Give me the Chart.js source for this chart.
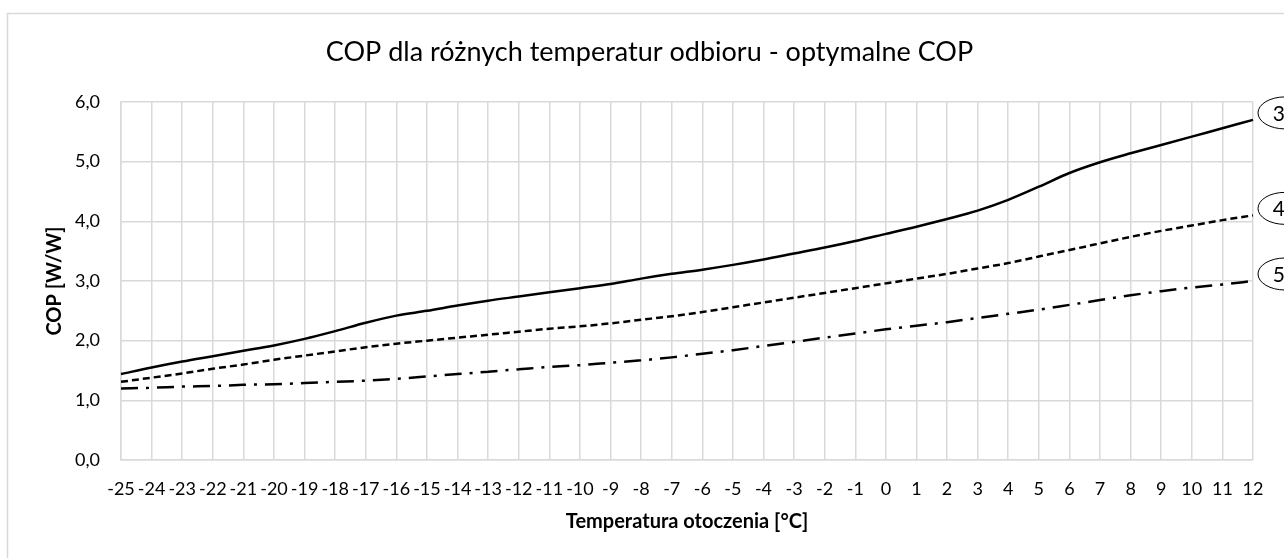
<!DOCTYPE html>
<html>
<head>
<meta charset="utf-8">
<script src="https://cdn.jsdelivr.net/npm/chart.js@4"></script>
<style>
  html, body { margin: 0; padding: 0; background: #fff; }
  #wrap { width: 1284px; height: 558px; }
</style>
</head>
<body>
<div id="wrap"><canvas id="copChart" width="1284" height="558"></canvas></div>
<script>
// Temperatura otoczenia [°C]
const temps = [-25, -24, -23, -22, -21, -20, -19, -18, -17, -16, -15, -14, -13, -12, -11, -10, -9, -8, -7,
    -6, -5, -4, -3, -2, -1, 0, 1, 2, 3, 4, 5, 6, 7, 8, 9, 10, 11, 12];

// COP dla temperatur odbioru 35 / 45 / 55
const cop35 = [1.44, 1.55, 1.65, 1.74, 1.83, 1.92, 2.03, 2.16, 2.30, 2.42, 2.50, 2.59, 2.67, 2.74, 2.81, 2.88, 2.95, 3.04, 3.12,
    3.19, 3.27, 3.36, 3.46, 3.56, 3.67, 3.79, 3.91, 4.04, 4.18, 4.36, 4.58, 4.81, 4.99, 5.14, 5.28, 5.42, 5.56, 5.70];
const cop45 = [1.31, 1.38, 1.45, 1.53, 1.60, 1.68, 1.75, 1.82, 1.89, 1.95, 2.00, 2.05, 2.10, 2.15, 2.20, 2.24, 2.29, 2.35, 2.41,
    2.48, 2.56, 2.64, 2.72, 2.80, 2.88, 2.96, 3.04, 3.12, 3.21, 3.30, 3.41, 3.52, 3.63, 3.74, 3.84, 3.93, 4.02, 4.10];
const cop55 = [1.20, 1.21, 1.23, 1.24, 1.26, 1.27, 1.29, 1.31, 1.33, 1.36, 1.40, 1.44, 1.48, 1.52, 1.56, 1.59, 1.63, 1.67, 1.72,
    1.78, 1.84, 1.91, 1.98, 2.05, 2.12, 2.19, 2.25, 2.31, 2.38, 2.45, 2.52, 2.60, 2.68, 2.76, 2.83, 2.89, 2.94, 3.00];

const seriesNames = ['35', '45', '55'];
const yTickLabels = ['0,0', '1,0', '2,0', '3,0', '4,0', '5,0', '6,0'];

const gridColor = '#d9d9d9';
const fontFamily = 'Lato, "Open Sans", sans-serif';

// white background + light frame around the whole chart
const frame = {
    id: 'frame',
    beforeDraw(chart) {
        const c = chart.ctx;
        c.save();
        c.fillStyle = '#fff';
        c.fillRect(0, 0, chart.width, chart.height);
        c.strokeStyle = gridColor;
        c.lineWidth = 1.5;
        c.strokeRect(7.5, 13.5, 1400, 700);
        c.restore();
    }
};

// oval labels next to the end of each line
const endLabels = {
    id: 'endLabels',
    afterDatasetsDraw(chart) {
        const c = chart.ctx;
        c.save();
        chart.data.datasets.forEach((ds, i) => {
            const meta = chart.getDatasetMeta(i);
            const pt = meta.data[meta.data.length - 1];
            const cx = pt.x + 32, cy = pt.y - 7;
            c.beginPath();
            c.ellipse(cx, cy, 27, 16, 0, 0, Math.PI * 2);
            c.fillStyle = '#fff';
            c.fill();
            c.lineWidth = 1;
            c.strokeStyle = '#000';
            c.stroke();
            c.fillStyle = '#000';
            c.font = '21px ' + fontFamily;
            c.textAlign = 'center';
            c.textBaseline = 'middle';
            c.fillText(seriesNames[i], cx, cy + 1);
        });
        c.restore();
    }
};

const lineStyle = {
    borderColor: '#000',
    borderWidth: 2.5,
    pointRadius: 0,
    fill: false,
    cubicInterpolationMode: 'monotone',
    borderCapStyle: 'butt'
};

new Chart(document.getElementById('copChart'), {
    type: 'line',
    data: {
        labels: temps,
        datasets: [
            Object.assign({ label: seriesNames[0], data: cop35 }, lineStyle),
            Object.assign({ label: seriesNames[1], data: cop45, borderDash: [7, 4] }, lineStyle),
            Object.assign({ label: seriesNames[2], data: cop55, borderDash: [17, 8, 3, 8] }, lineStyle)
        ]
    },
    options: {
        responsive: false,
        animation: false,
        devicePixelRatio: 1,
        // the original chart box runs past the right edge, so the title sits right of the canvas centre
        layout: { padding: { left: 23, right: 8, top: 0, bottom: 0 } },
        plugins: {
            legend: { display: false },
            tooltip: { enabled: false },
            title: {
                display: true,
                text: 'COP dla różnych temperatur odbioru - optymalne COP',
                color: '#000',
                font: { family: fontFamily, size: 27, weight: 'normal', lineHeight: 1.2 },
                padding: { top: 36, bottom: 33.6 }
            }
        },
        scales: {
            x: {
                offset: false,
                grid: { color: gridColor, lineWidth: 1.5, drawTicks: false },
                border: { color: gridColor, width: 1.5 },
                ticks: {
                    autoSkip: false, maxRotation: 0, minRotation: 0, padding: 18,
                    color: '#000', font: { family: fontFamily, size: 18 }
                },
                title: {
                    display: true,
                    text: 'Temperatura otoczenia [°C]',
                    color: '#000',
                    font: { family: fontFamily, size: 20, weight: 'bold', lineHeight: 1.2 },
                    padding: { top: 8, bottom: 24 }
                },
                afterFit(scale) { scale.height = 98; }
            },
            y: {
                min: 0, max: 6,
                grid: { color: gridColor, lineWidth: 1.5, drawTicks: false },
                border: { color: gridColor, width: 1.5 },
                ticks: {
                    stepSize: 1, padding: 21, color: '#000',
                    font: { family: fontFamily, size: 18 },
                    callback: (v) => yTickLabels[v]
                },
                title: {
                    display: true,
                    text: 'COP [W/W]',
                    color: '#000',
                    font: { family: fontFamily, size: 20, weight: 'bold', lineHeight: 1.2 },
                    padding: { top: 20, bottom: 0 }
                },
                afterFit(scale) { scale.width = 98; }
            },
            // empty spacer on the right, room for the oval labels
            yRight: {
                position: 'right',
                min: 0, max: 6,
                grid: { drawOnChartArea: false, drawTicks: false },
                border: { display: false },
                ticks: { display: false },
                afterFit(scale) { scale.width = 23; }
            }
        }
    },
    plugins: [frame, endLabels]
});
</script>
</body>
</html>
